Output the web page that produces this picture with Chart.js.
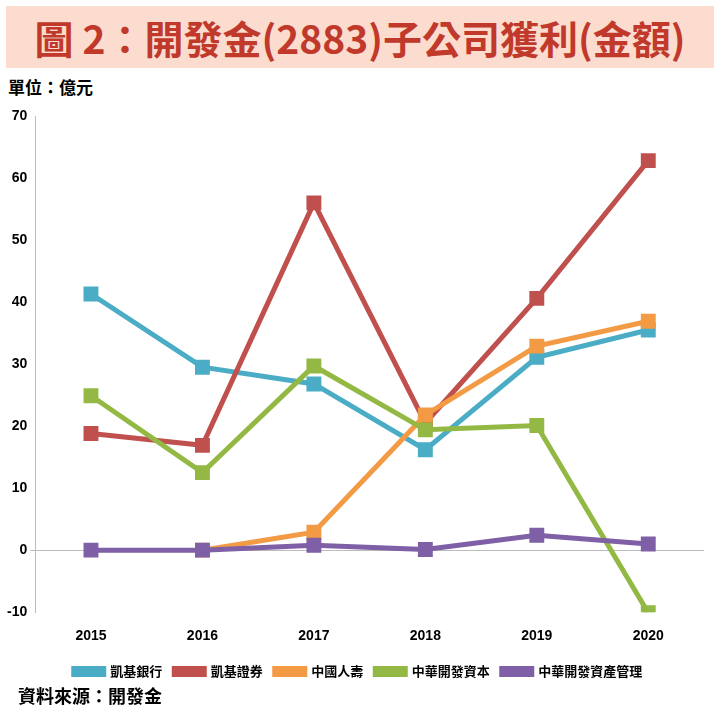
<!DOCTYPE html>
<html><head><meta charset="utf-8">
<script src="https://cdn.jsdelivr.net/npm/chart.js@4"></script>
<style>
body{margin:0;width:720px;height:720px;background:#fff;font-family:"Noto Sans CJK TC",sans-serif;position:relative;overflow:hidden}
#title{position:absolute;left:6px;top:6px;width:708px;height:62px;background:#fbdccf;color:#c0392b;font-weight:bold;font-size:39px;line-height:62px;text-align:center}
#unit{position:absolute;left:8px;top:74px;font-weight:bold;font-size:17px}
#src{position:absolute;left:18px;top:682px;font-weight:bold;font-size:18px}
#wrap{position:absolute;left:0;top:104px;width:716px;height:584px}
</style></head><body>
<div id="title">圖 2：開發金(2883)子公司獲利(金額)</div>
<div id="unit">單位：億元</div>
<div id="wrap"><canvas id="c"></canvas></div>
<div id="src">資料來源：開發金</div>
<script>
var years = ['2015','2016','2017','2018','2019','2020'];
var bank = [41.3, 29.5, 26.8, 16.2, 31.1, 35.5];
var securities = [18.8, 16.9, 56.0, 20.5, 40.6, 62.8];
var life = [null, 0, 2.9, 21.8, 32.9, 36.9];
var capital = [24.9, 12.5, 29.7, 19.4, 20.1, -10.1];
var assetMgmt = [0, 0, 0.8, 0.1, 2.4, 1.0];
var yTicks = [-10, 0, 10, 20, 30, 40, 50, 60, 70];

function ds(label, data, color) {
  return {label: label, data: data, borderColor: color, backgroundColor: color,
    borderWidth: 5, pointStyle: 'rect', pointRadius: 7, pointHoverRadius: 7, tension: 0};
}
new Chart(document.getElementById('c'), {
  type: 'line',
  data: {
    labels: years,
    datasets: [
      ds('中華開發資產管理', assetMgmt, '#7f5fa6'),
      ds('中華開發資本', capital, '#93b944'),
      ds('中國人壽', life, '#f39a45'),
      ds('凱基證券', securities, '#c0504d'),
      ds('凱基銀行', bank, '#4bacc6')
    ]
  },
  options: {
    responsive: true, maintainAspectRatio: false, animation: false,
    layout: {padding: {left: 4, right: 4, top: 6}},
    plugins: {
      legend: {position: 'bottom', reverse: true,
        labels: {boxWidth: 30, boxHeight: 6, font: {size: 13, weight: 'bold', family: '"Noto Sans CJK TC"'}, color: '#000', padding: 12}},
      tooltip: {enabled: false}
    },
    scales: {
      x: {offset: true, grid: {display: false}, border: {display: false},
        ticks: {color: '#000', font: {size: 14, weight: 'bold'}, padding: 8}},
      y: {min: -10, max: 70,
        afterBuildTicks: function(a){ a.ticks = yTicks.map(function(v){return {value: v};}); },
        grid: {drawTicks: true, tickLength: 5, color: function(c){ return c.tick && c.tick.value === 0 ? '#bbb' : 'transparent'; }},
        border: {display: true, color: '#bbb'},
        ticks: {color: '#000', font: {size: 14, weight: 'bold'}}}
    }
  }
});
</script>
</body></html>
